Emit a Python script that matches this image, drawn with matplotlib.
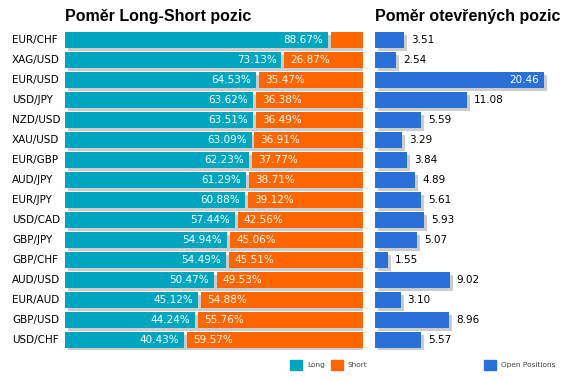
import matplotlib.pyplot as plt
from matplotlib import transforms

pairs = ["EUR/CHF", "XAG/USD", "EUR/USD", "USD/JPY", "NZD/USD", "XAU/USD", "EUR/GBP", "AUD/JPY",
         "EUR/JPY", "USD/CAD", "GBP/JPY", "GBP/CHF", "AUD/USD", "EUR/AUD", "GBP/USD", "USD/CHF"]
long_pct = [88.67, 73.13, 64.53, 63.62, 63.51, 63.09, 62.23, 61.29,
            60.88, 57.44, 54.94, 54.49, 50.47, 45.12, 44.24, 40.43]
short_pct = [11.33, 26.87, 35.47, 36.38, 36.49, 36.91, 37.77, 38.71,
             39.12, 42.56, 45.06, 45.51, 49.53, 54.88, 55.76, 59.57]
open_pos = [3.51, 2.54, 20.46, 11.08, 5.59, 3.29, 3.84, 4.89,
            5.61, 5.93, 5.07, 1.55, 9.02, 3.10, 8.96, 5.57]

long_col = "#00a6c0"
short_col = "#ff6600"
open_col = "#2970d8"
shadow_col = "#cccccc"

W, H = 571, 381
fig = plt.figure(figsize=(W / 100, H / 100), dpi=100)
plt.rcParams['font.family'] = ['DejaVu Sans']

top_px, bot_px = 30, 350
n = len(pairs)
rows = list(range(n))

# left chart: long/short ratio
x0, x1 = 65, 363
axl = fig.add_axes([x0 / W, 1 - bot_px / H, (x1 - x0) / W, (bot_px - top_px) / H])
px_l = (x1 - x0) / 100.0
sx, sy = 3 / px_l, 3 / 20.0
axl.barh([r + sy for r in rows], [100] * n, left=sx, height=0.8, color=shadow_col, zorder=1)
axl.barh(rows, [l - 0.5 for l in long_pct], left=0, height=0.8, color=long_col, zorder=2)
axl.barh(rows, [s - 0.5 for s in short_pct], left=[l + 0.5 for l in long_pct],
         height=0.8, color=short_col, zorder=2)
for r, l, s in zip(rows, long_pct, short_pct):
    axl.text(l - 0.5 - 5 / px_l, r, f"{l:.2f}%", color="white", ha="right", va="center",
             fontsize=7.5, zorder=3)
    if s > 15:
        axl.text(l + 0.5 + 6 / px_l, r, f"{s:.2f}%", color="white", ha="left", va="center",
                 fontsize=7.5, zorder=3)
axl.set_xlim(0, 100)
axl.set_ylim(n - 0.5, -0.5)
axl.axis("off")

lab_tr = transforms.blended_transform_factory(fig.transFigure, axl.transData)
for r, p in zip(rows, pairs):
    axl.text(12 / W, r, p, transform=lab_tr, ha="left", va="center", fontsize=7.5, color="black")

# right chart: open positions
x2, x3 = 375, 571
scale = 169 / 20.46
axr = fig.add_axes([x2 / W, 1 - bot_px / H, (x3 - x2) / W, (bot_px - top_px) / H])
axr.barh([r + sy for r in rows], open_pos, left=3 / scale, height=0.8, color=shadow_col, zorder=1)
axr.barh(rows, open_pos, height=0.8, color=open_col, zorder=2)
for r, v in zip(rows, open_pos):
    if v > 15:
        axr.text(v - 5 / scale, r, f"{v:.2f}", color="white", ha="right", va="center",
                 fontsize=7.5, zorder=3)
    else:
        axr.text(v + 7 / scale, r, f"{v:.2f}", color="black", ha="left", va="center",
                 fontsize=7.5, zorder=3)
axr.set_xlim(0, (x3 - x2) / scale)
axr.set_ylim(n - 0.5, -0.5)
axr.axis("off")

# titles
fig.text(x0 / W, 1 - 16 / H, "Poměr Long-Short pozic", fontsize=11.5, fontweight="bold",
         family="Liberation Sans", ha="left", va="center")
fig.text(x2 / W, 1 - 16 / H, "Poměr otevřených pozic", fontsize=11.5, fontweight="bold",
         family="Liberation Sans", ha="left", va="center")

# legend
def legend_item(x, label, color):
    fig.patches.append(plt.Rectangle((x / W, 1 - 370 / H), 12 / W, 10 / H, color=color,
                                     transform=fig.transFigure, figure=fig))
    fig.text((x + 17) / W, 1 - 365 / H, label, fontsize=5.3, color="#444444", ha="left", va="center")

legend_item(290, "Long", long_col)
legend_item(331, "Short", short_col)
legend_item(484, "Open Positions", open_col)

fig.savefig("out.png", dpi=100)
